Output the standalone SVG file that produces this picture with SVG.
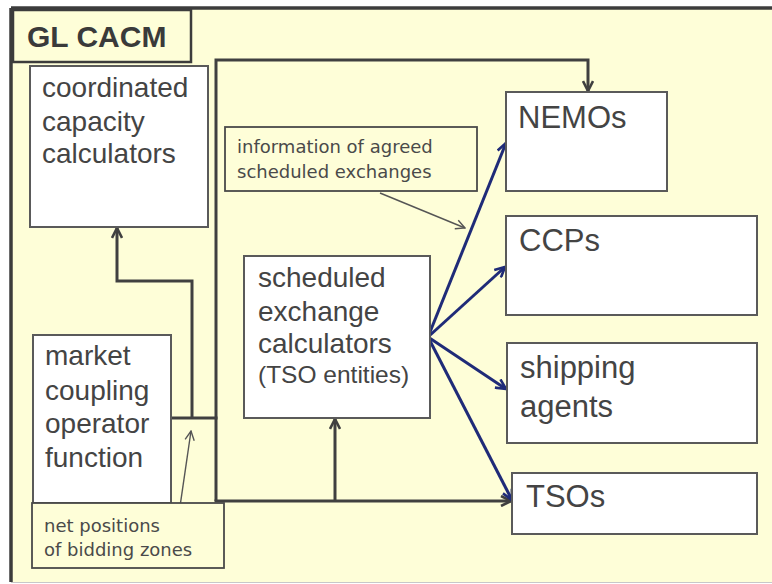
<svg xmlns="http://www.w3.org/2000/svg" width="772" height="584" viewBox="0 0 772 584">
  <defs>
    <marker id="arrDark" viewBox="0 0 12 12" refX="11" refY="6" markerWidth="12" markerHeight="12" markerUnits="userSpaceOnUse" orient="auto">
      <path d="M1,1 L11,6 L1,11" fill="none" stroke="#404040" stroke-width="2.6" stroke-linejoin="miter"/>
    </marker>
    <marker id="arrBlue" viewBox="0 0 12 12" refX="11" refY="6" markerWidth="12" markerHeight="12" markerUnits="userSpaceOnUse" orient="auto">
      <path d="M1,1 L11,6 L1,11" fill="none" stroke="#1f2b78" stroke-width="2.6"/>
    </marker>
    <marker id="arrThin" viewBox="0 0 12 12" refX="11" refY="6" markerWidth="11" markerHeight="11" markerUnits="userSpaceOnUse" orient="auto">
      <path d="M1,1 L11,6 L1,11" fill="none" stroke="#555" stroke-width="1.5"/>
    </marker>
  </defs>
  <style>
    .box { fill: #ffffff; stroke: #5a5a5a; stroke-width: 2; }
    .note { fill: #fefed8; stroke: #4a4a4a; stroke-width: 1.8; }
    .big { font-family: "Liberation Sans", Arial, sans-serif; font-size: 28px; fill: #444; }
    .bigR { font-family: "Liberation Sans", Arial, sans-serif; font-size: 31px; fill: #444; }
    .mid { font-family: "Liberation Sans", Arial, sans-serif; font-size: 24.5px; fill: #444; }
    .small { font-family: "DejaVu Sans", Verdana, sans-serif; font-size: 18px; fill: #4a4a4a; }
    .title { font-family: "Liberation Sans", Arial, sans-serif; font-size: 30px; font-weight: bold; fill: #3a3a3a; }
    .dark { fill: none; stroke: #404040; stroke-width: 3; }
    .blue { fill: none; stroke: #1f2b78; stroke-width: 3; }
    .thin { fill: none; stroke: #555; stroke-width: 1.4; }
  </style>

  <!-- page background and frame -->
  <rect x="0" y="0" width="772" height="584" fill="#ffffff"/>
  <rect x="11" y="8" width="770" height="574" fill="#fefed8"/>
  <line x1="11" y1="8" x2="772" y2="8" stroke="#3c3c3c" stroke-width="3.5"/>
  <line x1="11" y1="8" x2="11" y2="582" stroke="#3c3c3c" stroke-width="3.5"/>
  <line x1="11" y1="582.5" x2="772" y2="582.5" stroke="#c8c8c8" stroke-width="1"/>

  <!-- connectors -->
  <g id="connectors">
    <path class="dark" d="M216,501 L216,60 L588,60 L588,91" marker-end="url(#arrDark)"/>
    <path class="dark" d="M214.5,501 L511,501" marker-end="url(#arrDark)"/>
    <path class="dark" d="M335,501 L335,419" marker-end="url(#arrDark)"/>
    <path class="dark" d="M171,418 L217.5,418"/>
    <path class="dark" d="M192,418 L192,281 L117,281 L117,228" marker-end="url(#arrDark)"/>
    <path class="blue" d="M428,337 L506,143" marker-end="url(#arrBlue)"/>
    <path class="blue" d="M428,337 L505,267" marker-end="url(#arrBlue)"/>
    <path class="blue" d="M428,337 L506,389" marker-end="url(#arrBlue)"/>
    <path class="blue" d="M428,337 L512,500" marker-end="url(#arrBlue)"/>
    <path class="thin" d="M380,193 L465,228" marker-end="url(#arrThin)"/>
    <path class="thin" d="M176,534 L191,431" marker-end="url(#arrThin)"/>
  </g>

  <g id="gl-cacm">
    <rect x="13" y="10" width="178" height="52" fill="#fefed8" stroke="#3c3c3c" stroke-width="2.5"/>
    <text class="title" x="27" y="47">GL CACM</text>
  </g>

  <g id="coordinated-capacity-calculators">
    <rect class="box" x="30" y="66" width="178" height="161"/>
    <text class="big" x="42" y="97">coordinated</text>
    <text class="big" x="42" y="131">capacity</text>
    <text class="big" x="42" y="163">calculators</text>
  </g>

  <g id="market-coupling-operator">
    <rect class="box" x="33" y="335" width="138" height="168"/>
    <text class="big" x="45" y="365">market</text>
    <text class="big" x="45" y="400">coupling</text>
    <text class="big" x="45" y="433">operator</text>
    <text class="big" x="45" y="467">function</text>
  </g>

  <g id="net-positions-label">
    <rect class="note" x="32" y="503" width="192" height="65"/>
    <text class="small" x="44" y="532">net positions</text>
    <text class="small" x="44" y="556">of bidding zones</text>
  </g>

  <g id="information-label">
    <rect class="note" x="225" y="127" width="252" height="64"/>
    <text class="small" x="237" y="153">information of agreed</text>
    <text class="small" x="237" y="178">scheduled exchanges</text>
  </g>

  <g id="scheduled-exchange-calculators">
    <rect class="box" x="244" y="256" width="186" height="162"/>
    <text class="big" x="258" y="287">scheduled</text>
    <text class="big" x="258" y="321">exchange</text>
    <text class="big" x="258" y="353">calculators</text>
    <text class="mid" x="258" y="383">(TSO entities)</text>
  </g>

  <g id="nemos">
    <rect class="box" x="506" y="92" width="161" height="99"/>
    <text class="bigR" x="518" y="128">NEMOs</text>
  </g>

  <g id="ccps">
    <rect class="box" x="506" y="216" width="251" height="99"/>
    <text class="bigR" x="519" y="251">CCPs</text>
  </g>

  <g id="shipping-agents">
    <rect class="box" x="507" y="343" width="250" height="100"/>
    <text class="bigR" x="520" y="378">shipping</text>
    <text class="bigR" x="520" y="417">agents</text>
  </g>

  <g id="tsos">
    <rect class="box" x="512" y="473" width="245" height="61"/>
    <text class="bigR" x="526" y="507">TSOs</text>
  </g>
</svg>
